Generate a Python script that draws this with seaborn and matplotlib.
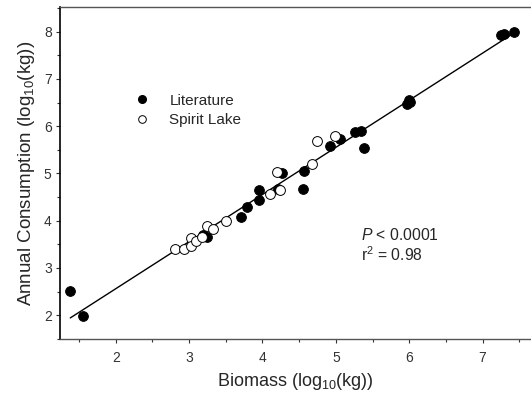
import numpy as np
import pandas as pd
import matplotlib
matplotlib.use("Agg")
import matplotlib.pyplot as plt
import seaborn as sns
from matplotlib.ticker import MultipleLocator
from matplotlib.lines import Line2D

lit_x = [1.38, 1.56, 3.19, 3.24, 3.71, 3.79, 3.95, 3.95, 4.21, 4.26, 4.55, 4.56,
         4.92, 5.06, 5.26, 5.34, 5.39, 5.97, 6.00, 6.01, 7.25, 7.29, 7.43]
lit_y = [2.52, 1.99, 3.69, 3.65, 4.08, 4.28, 4.43, 4.64, 4.68, 5.01, 4.67, 5.06,
         5.58, 5.72, 5.87, 5.89, 5.53, 6.47, 6.55, 6.51, 7.93, 7.95, 7.99]
spirit_x = [2.81, 2.93, 3.02, 3.03, 3.10, 3.18, 3.25, 3.32, 3.50, 4.10, 4.20, 4.24,
            4.68, 4.74, 4.99]
spirit_y = [3.40, 3.40, 3.63, 3.46, 3.56, 3.65, 3.88, 3.83, 4.00, 4.56, 5.03, 4.66,
            5.19, 5.68, 5.79]

sns.set_style("ticks")
plt.rcParams['font.family'] = ['Liberation Sans', 'DejaVu Sans']
plt.rcParams['mathtext.fontset'] = 'custom'
plt.rcParams['mathtext.rm'] = 'Liberation Sans'
plt.rcParams['mathtext.it'] = 'Liberation Sans:italic'

df = pd.DataFrame({
    "x": lit_x + spirit_x,
    "y": lit_y + spirit_y,
    "src": ["Literature"] * len(lit_x) + ["Spirit Lake"] * len(spirit_x),
})

fig = plt.figure(figsize=(5.31, 3.94), dpi=100)
ax = fig.add_axes([0.113, 0.140, 0.887, 0.842])

sns.regplot(data=df, x="x", y="y", scatter=False, ci=None, truncate=True,
            line_kws=dict(color="black", lw=1.0), ax=ax)
sns.scatterplot(data=df[df.src == "Literature"], x="x", y="y", color="black",
                edgecolor="black", s=50, linewidth=0.6, ax=ax, legend=False, zorder=3)
sns.scatterplot(data=df[df.src == "Spirit Lake"], x="x", y="y", color="white",
                edgecolor="black", s=50, linewidth=0.7, ax=ax, legend=False, zorder=3)

ax.set_xlim(1.24, 7.66)
ax.set_ylim(1.5, 8.52)
ax.xaxis.set_major_locator(MultipleLocator(1))
ax.xaxis.set_minor_locator(MultipleLocator(0.5))
ax.yaxis.set_major_locator(MultipleLocator(1))
ax.yaxis.set_minor_locator(MultipleLocator(0.5))
ax.set_xticks([2, 3, 4, 5, 6, 7])
ax.set_yticks([2, 3, 4, 5, 6, 7, 8])
ax.tick_params(which="major", length=3, width=0.8, labelsize=10, pad=6, colors="#333333")
ax.tick_params(which="minor", length=2, width=0.8, colors="#333333")
ax.tick_params(axis="y", which="both", pad=3)

for s in ["top", "bottom"]:
    ax.spines[s].set_visible(True)
    ax.spines[s].set_color("#555555")
    ax.spines[s].set_linewidth(1.0)
ax.spines["left"].set_color("black")
ax.spines["left"].set_linewidth(1.2)
ax.spines["right"].set_visible(False)

ax.set_xlabel(r"Biomass (log$_{10}$(kg))", fontsize=13, labelpad=4)
ax.set_ylabel(r"Annual Consumption (log$_{10}$(kg))", fontsize=13.5, labelpad=5)

handles = [
    Line2D([], [], marker="o", ls="", color="black", markersize=5.5),
    Line2D([], [], marker="o", ls="", markerfacecolor="white",
           markeredgecolor="black", markersize=5.5, markeredgewidth=0.7),
]
ax.legend(handles, ["Literature", "Spirit Lake"], loc="upper left",
          bbox_to_anchor=(0.112, 0.78), frameon=False, fontsize=11,
          handletextpad=0.8, labelspacing=0.35)

ax.text(0.640, 0.312, r"$\it{P}$ < 0.0001", transform=ax.transAxes, fontsize=11.3,
        va="center")
ax.text(0.640, 0.253, r"r$^2$ = 0.98", transform=ax.transAxes, fontsize=11.3,
        va="center")

fig.savefig("out.png", dpi=100)
